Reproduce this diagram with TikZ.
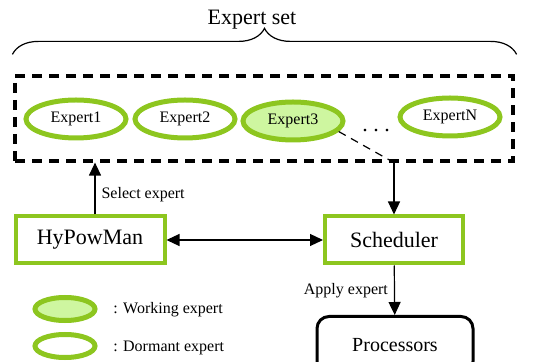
\documentclass[tikz,border=0pt]{standalone}
\usepackage{fontspec}
\setmainfont{Liberation Serif}
\usetikzlibrary{shapes.geometric,arrows.meta,calc,decorations.pathreplacing}

\definecolor{limeline}{RGB}{141,198,31}
\definecolor{limefill}{RGB}{206,246,160}

\begin{document}
\begin{tikzpicture}[x=0.5pt,y=-0.5pt,
    expert/.style={draw=limeline, line width=2.5pt, ellipse, inner sep=0pt,
        minimum width=50pt, minimum height=19pt, font=\fontsize{8}{9.6}\selectfont},
    working/.style={expert, fill=limefill},
    legend/.style={draw=limeline, line width=2.5pt, ellipse, inner sep=0pt,
        minimum width=30pt, minimum height=11.5pt},
    unit/.style={draw=limeline, line width=2pt, rectangle, inner sep=0pt,
        minimum height=23.5pt, font=\fontsize{11}{13}\selectfont},
    setbox/.style={draw, line width=1.6pt, dash pattern=on 5pt off 3.5pt,
        minimum width=249pt, minimum height=42.5pt},
    lbl/.style={font=\fontsize{8}{9.6}\selectfont, inner sep=3pt},
    arr/.style={line width=0.6pt, -{Triangle[length=6.5pt,width=6pt]}}]
\useasboundingbox (0,0) rectangle (555,362);

% expert set
\node[setbox] (set) at (264,118.5) {};
\node[expert]  (e1) at (76,119)  {Expert1};
\node[expert]  (e2) at (185,119) {Expert2};
\node[working] (e3) at (293,121) {Expert3};
\node[expert]  (eN) at (450,117) {ExpertN};
\node[font=\fontsize{11}{13}\selectfont, inner sep=0pt] (dots) at (376,131) {.\ .\ .};

% brace above the set
\draw[line width=0.6pt, decorate, decoration={brace, amplitude=13pt}]
    ($ (set.north west) + (-1,-20) $) coordinate (BR1)
    -- ($ (set.north east) + (2,-20) $) coordinate (BR2);
\node[font=\fontsize{11}{13}\selectfont] (title) at (252,20) {Expert set};

% manager and scheduler
\node[unit, minimum width=74.5pt] (hyp)   at (90,240)  {HyPowMan};
\node[unit, minimum width=69pt]   (sched) at (394,240) {Scheduler};
\node[draw, line width=1.5pt, rounded corners=6pt, minimum width=78pt,
    minimum height=28.5pt, font=\fontsize{10}{12}\selectfont] (proc) at (395,345) {Processors};

% connectors
\draw[arr] ($ (hyp.north) + (5,0) $) coordinate (SEL)
    -- (SEL |- set.south)
    node[midway, right, lbl, yshift=-3pt] (seltext) {Select expert};
\draw[line width=0.6pt, dash pattern=on 4pt off 3pt] (e3.-13) -- (sched.north |- set.south) coordinate (TURN);
\draw[arr] (TURN) -- (sched.north);
\draw[line width=0.6pt, {Triangle[length=6.5pt,width=6pt]}-{Triangle[length=6.5pt,width=6pt]}] (hyp) -- (sched);
\draw[arr] (sched) -- (proc)
    node[midway, left, lbl] (applytext) {Apply expert};

% legend
\node[legend, fill=limefill] (lw) at (65,309) {};
\node[legend] (ld) at (65,346) {};
\node[lbl, anchor=west] (lwtext) at (107,310) {: Working expert};
\node[lbl, anchor=west] (ldtext) at (107,348) {: Dormant expert};
\end{tikzpicture}
\end{document}
